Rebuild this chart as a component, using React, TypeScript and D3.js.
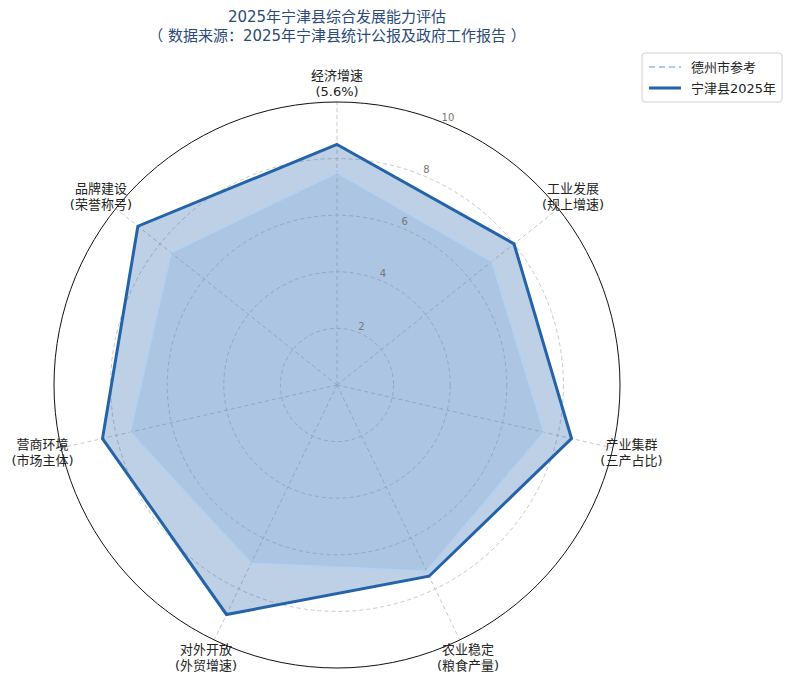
import React, { useEffect, useRef } from 'react';
import * as d3 from 'd3';

const categories = ['经济增速\n(5.6%)', '工业发展\n(规上增速)', '产业集群\n(三产占比)', '农业稳定\n(粮食产量)', '对外开放\n(外贸增速)', '营商环境\n(市场主体)', '品牌建设\n(荣誉称号)'];
const dezhouValues = [7.5, 7.0, 7.5, 7.3, 7.0, 7.5, 7.5];
const ningjinValues = [8.5, 8.0, 8.5, 7.5, 9.0, 8.5, 9.0];
const radialTicks = [2, 4, 6, 8, 10];
const seriesNames = ['德州市参考', '宁津县2025年'];

const FONT = '"DejaVu Sans", "Noto Sans CJK SC", sans-serif';

export default function App() {
  const svgRef = useRef<SVGSVGElement>(null);

  useEffect(() => {
    if (!svgRef.current) return;
    const width = 792;
    const height = 685;
    const cx = 337;
    const cy = 385;
    const outer = 283;

    d3.select(svgRef.current).selectAll('*').remove();
    const svg = d3.select(svgRef.current).attr('width', width).attr('height', height);

    const r = d3.scaleLinear().domain([0, 10]).range([0, outer]);
    const angle = d3.scalePoint<number>()
      .domain(d3.range(categories.length + 1))
      .range([0, 2 * Math.PI]);
    const a = (i: number) => angle(i) as number;

    const g = svg.append('g').attr('transform', `translate(${cx},${cy})`);

    // grid circles
    g.selectAll('circle.grid')
      .data(radialTicks.slice(0, -1))
      .enter()
      .append('circle')
      .attr('r', d => r(d))
      .attr('fill', 'none')
      .attr('stroke', '#c8c8c8')
      .attr('stroke-width', 1)
      .attr('stroke-dasharray', '4,3');

    // spokes
    g.selectAll('line.spoke')
      .data(categories)
      .enter()
      .append('line')
      .attr('x1', 0)
      .attr('y1', 0)
      .attr('x2', (_, i) => r(10) * Math.sin(a(i)))
      .attr('y2', (_, i) => -r(10) * Math.cos(a(i)))
      .attr('stroke', '#c8c8c8')
      .attr('stroke-width', 1)
      .attr('stroke-dasharray', '4,3');

    const line = d3.lineRadial<number>()
      .angle((_, i) => a(i))
      .radius(d => r(d))
      .curve(d3.curveLinearClosed);

    // fills
    g.append('path')
      .attr('d', line(dezhouValues))
      .attr('fill', '#9fc4ee')
      .attr('fill-opacity', 0.25);
    g.append('path')
      .attr('d', line(ningjinValues))
      .attr('fill', '#2563a8')
      .attr('fill-opacity', 0.3);

    // outlines
    g.append('path')
      .attr('d', line(dezhouValues))
      .attr('fill', 'none')
      .attr('stroke', '#b4d2f4')
      .attr('stroke-opacity', 0.8)
      .attr('stroke-width', 2);
    g.append('path')
      .attr('d', line(ningjinValues))
      .attr('fill', 'none')
      .attr('stroke', '#2563a8')
      .attr('stroke-width', 3);

    // outer circle
    g.append('circle')
      .attr('r', r(10))
      .attr('fill', 'none')
      .attr('stroke', '#111')
      .attr('stroke-width', 1);

    // radial tick labels
    const labelAngle = (22.5 * Math.PI) / 180;
    g.selectAll('text.rtick')
      .data(radialTicks)
      .enter()
      .append('text')
      .attr('x', d => (r(d) + 7) * Math.sin(labelAngle))
      .attr('y', d => -(r(d) + 7) * Math.cos(labelAngle))
      .attr('text-anchor', 'middle')
      .attr('dominant-baseline', 'central')
      .attr('font-family', FONT)
      .attr('font-size', 10)
      .attr('fill', '#777')
      .text(d => d);

    // category labels
    const labelR = 302;
    categories.forEach((c, i) => {
      const lines = c.split('\n');
      const x = labelR * Math.sin(a(i));
      const y = -labelR * Math.cos(a(i));
      const t = g.append('text')
        .attr('text-anchor', 'middle')
        .attr('font-family', FONT)
        .attr('font-size', 13)
        .attr('fill', '#222');
      lines.forEach((l, j) => {
        t.append('tspan')
          .attr('x', x)
          .attr('y', y + (j - (lines.length - 1) / 2) * 16)
          .attr('dominant-baseline', 'central')
          .text(l);
      });
    });

    // title
    const title = svg.append('text')
      .attr('text-anchor', 'middle')
      .attr('font-family', FONT)
      .attr('font-size', 15)
      .attr('fill', '#2b4a7a');
    title.append('tspan').attr('x', cx).attr('y', 22).text('2025年宁津县综合发展能力评估');
    title.append('tspan').attr('x', cx).attr('y', 41).text('（ 数据来源：2025年宁津县统计公报及政府工作报告 ）');

    // legend
    const lg = svg.append('g').attr('transform', 'translate(642,53)');
    lg.append('rect')
      .attr('width', 140)
      .attr('height', 49)
      .attr('rx', 3)
      .attr('fill', '#fff')
      .attr('stroke', '#d0d0d0');
    const styles = [
      { color: '#a9cbf0', width: 2, dash: '6,4' },
      { color: '#2563a8', width: 3, dash: null },
    ];
    seriesNames.forEach((name, i) => {
      const yy = 14 + i * 21;
      lg.append('line')
        .attr('x1', 7)
        .attr('x2', 39)
        .attr('y1', yy)
        .attr('y2', yy)
        .attr('stroke', styles[i].color)
        .attr('stroke-width', styles[i].width)
        .attr('stroke-dasharray', styles[i].dash);
      lg.append('text')
        .attr('x', 49)
        .attr('y', yy)
        .attr('dominant-baseline', 'central')
        .attr('font-family', FONT)
        .attr('font-size', 13)
        .attr('fill', '#222')
        .text(name);
    });
  }, []);

  return <svg ref={svgRef} style={{ position: 'absolute', left: 0, top: 0, display: 'block' }}></svg>;
}
